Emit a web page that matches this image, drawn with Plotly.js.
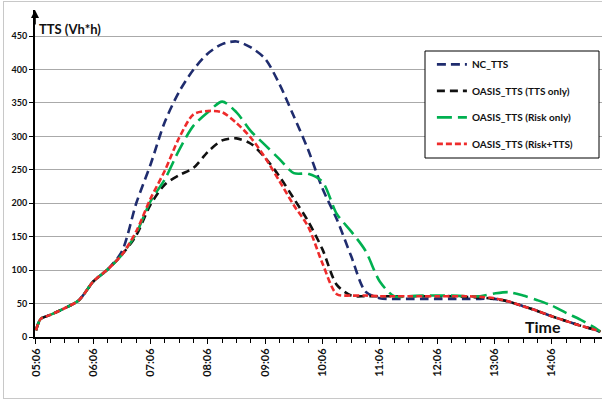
<!DOCTYPE html>
<html>
<head>
<meta charset="utf-8">
<script src="https://cdn.plot.ly/plotly-3.0.1.min.js"></script>
<style>
  html, body { margin: 0; padding: 0; background: #ffffff; }
  #chart { width: 602px; height: 400px; position: absolute; left: 0; top: 0; }
  #frame { position: absolute; left: 3px; top: 1px; width: 620px; height: 396px;
           border: 1px solid #c8c8c8; pointer-events: none; }
</style>
</head>
<body>
<div id="chart"></div>
<div id="frame"></div>
<script>
// ---- data ----
var times = ["05:06","05:11","05:21","05:36","05:51","06:06","06:21","06:36","06:51","07:06",
             "07:21","07:36","07:51","08:06","08:21","08:36","08:51","09:06","09:21","09:36",
             "09:51","10:06","10:21","10:36","10:51","11:06","11:21","11:36","11:51","12:06",
             "12:21","12:36","12:51","13:06","13:21","13:36","13:51","14:06","14:21","14:36",
             "14:51","14:57"];

var ncTTS = [10,27,33,43,55,83,101,128,200,258,
             322,367,400,424,438,442,433,416,378,330,
             280,222,176,121,68,58,57,57,57,57,
             57,57,57,57,53,46,39,31,24,17,
             11,8];

var oasisTTSonly = [10,27,33,43,55,83,101,123,152,198,
                    228,242,253,277,294,297,289,268,240,207,
                    173,131,78,62,61,61,61,61,61,61,
                    61,60,59,57,53,46,39,31,24,17,
                    11,8];

var oasisRiskOnly = [10,27,33,43,55,83,101,123,155,203,
                     236,280,316,336,352,336,308,287,266,245,
                     244,232,184,158,129,83,61,61,62,62,
                     62,61,61,65,67,62,55,47,36,26,
                     14,8];

var oasisRiskTTS = [10,27,33,43,55,83,101,123,158,207,
                    249,298,333,338,336,320,298,268,233,197,
                    165,110,64,62,62,61,61,61,61,61,
                    61,61,60,58,53,46,39,31,24,17,
                    11,8];

var seriesNames = ["NC_TTS","OASIS_TTS (TTS only)","OASIS_TTS (Risk only)","OASIS_TTS (Risk+TTS)"];
var yTickVals = [0,50,100,150,200,250,300,350,400,450];

var day = "2024-01-01 ";
var xs = times.map(function(t){ return day + t; });

var FONT = "Lato, 'Open Sans', sans-serif";

function mk(name, y, color, dash, grp) {
  return {
    type: "scatter", mode: "lines", name: name, x: xs, y: y,
    legendgroup: grp,
    line: { color: color, width: 2.6, dash: dash, shape: "spline", smoothing: 0.8 }
  };
}

var data = [
  mk(seriesNames[0], ncTTS, "#1f2c6e", "9px,5px", "a"),
  mk(seriesNames[1], oasisTTSonly, "#111111", "8px,5px", "b"),
  mk(seriesNames[2], oasisRiskOnly, "#00b050", "15px,6px", "c"),
  mk(seriesNames[3], oasisRiskTTS, "#ee2b2b", "6px,3px", "d")
];

var layout = {
  width: 602, height: 400,
  margin: { l: 35, r: 0, t: 10, b: 63, pad: 0 },
  paper_bgcolor: "rgba(0,0,0,0)",
  plot_bgcolor: "#ffffff",
  showlegend: true,
  legend: {
    x: 0.70, y: 0.878, xanchor: "left", yanchor: "top",
    bgcolor: "rgba(0,0,0,0)", borderwidth: 0,
    font: { family: FONT, size: 10, color: "#111", weight: "bold" },
    tracegroupgap: 7.5, itemwidth: 30
  },
  xaxis: {
    type: "date",
    range: [day + "05:05:00", day + "14:58:40"],
    tick0: day + "05:06", dtick: 3600000, tickformat: "%H:%M",
    tickangle: -90,
    ticks: "outside", ticklen: 5, tickwidth: 1, tickcolor: "#000",
    tickfont: { family: FONT, size: 11, color: "#111", weight: "bold" },
    showline: true, linecolor: "#000", linewidth: 2,
    showgrid: false, zeroline: false,
    minor: { tick0: day + "05:06", dtick: 900000, ticks: "outside", ticklen: 4, tickwidth: 1, tickcolor: "#000", showgrid: false }
  },
  yaxis: {
    range: [0, 489],
    tickmode: "array", tickvals: yTickVals,
    ticks: "outside", ticklen: 4, tickwidth: 1, tickcolor: "#000",
    tickfont: { family: FONT, size: 9, color: "#111", weight: "bold" },
    showline: true, linecolor: "#000", linewidth: 2,
    showgrid: true, gridcolor: "#aaaaaa", gridwidth: 1,
    zeroline: false
  },
  shapes: [
    { type: "rect", xref: "paper", yref: "paper",
      x0: (425 - 35) / 567, x1: (599 - 35) / 567,
      y0: (337 - 158) / 327, y1: (337 - 51) / 327,
      line: { color: "#000", width: 1 }, fillcolor: "rgba(255,255,255,1)", layer: "above" }
  ],
  annotations: [
    { xref: "paper", yref: "paper", x: 0.004, y: 0.942, xanchor: "left", yanchor: "middle",
      text: "TTS (Vh*h)", showarrow: false,
      font: { family: FONT, size: 13, color: "#111", weight: "bold" } },
    { xref: "paper", yref: "paper", x: (543 - 35) / 567, y: (337 - 326) / 327,
      xanchor: "center", yanchor: "middle",
      text: "Time", showarrow: false,
      font: { family: FONT, size: 16, color: "#111", weight: "bold" } },
    { xref: "paper", yref: "paper", x: 0, y: 1, text: "", showarrow: true,
      ax: 0, ay: 16, arrowhead: 2, arrowsize: 1, arrowwidth: 1.6, arrowcolor: "#000" }
  ]
};

Plotly.newPlot("chart", data, layout, { staticPlot: true, displayModeBar: false });
</script>
</body>
</html>
